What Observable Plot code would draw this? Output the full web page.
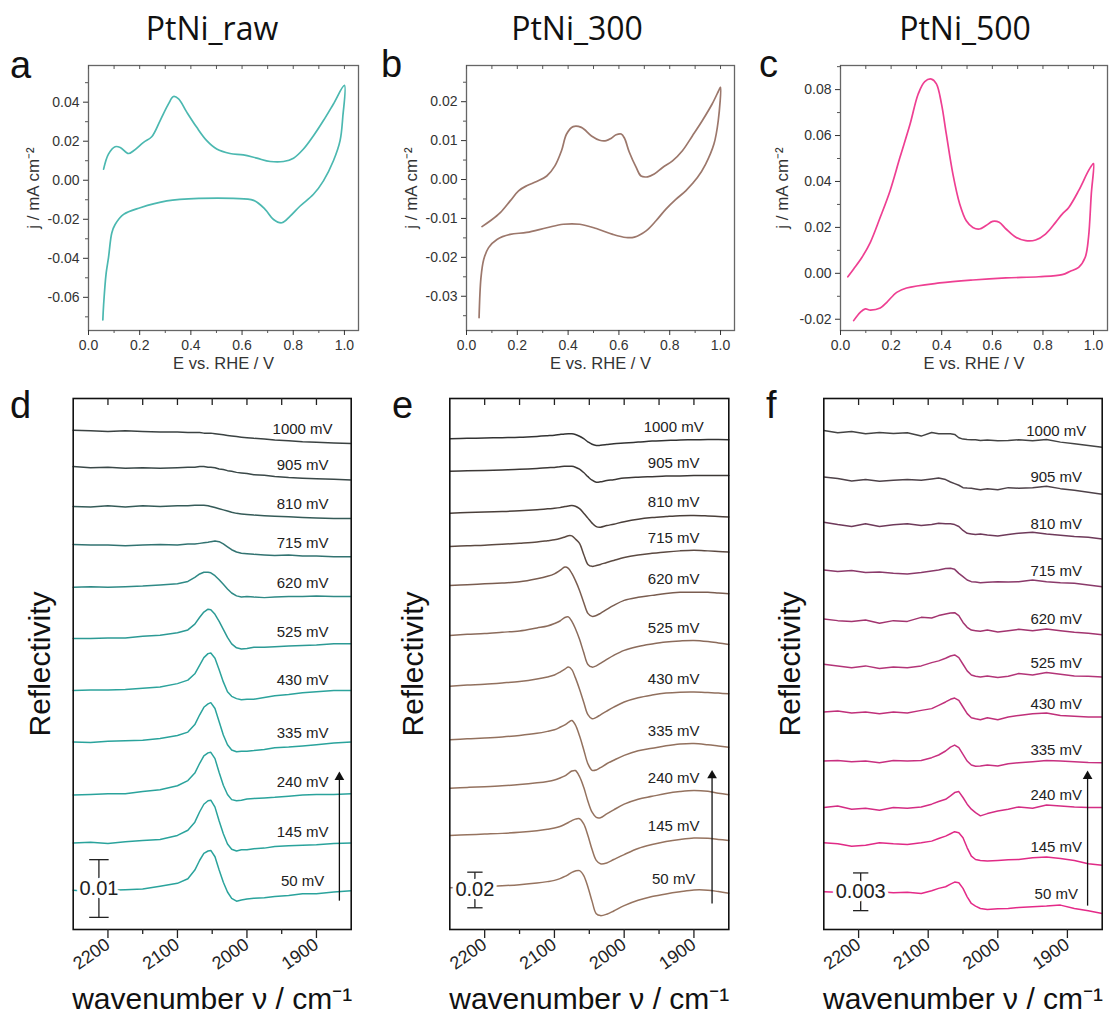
<!DOCTYPE html>
<html><head><meta charset="utf-8">
<script src="https://cdn.jsdelivr.net/npm/d3@7"></script>
<script src="https://cdn.jsdelivr.net/npm/@observablehq/plot@0.6"></script>
<style>
body{margin:0;background:#fff}
#wrap{position:relative;width:1109px;height:1025px;overflow:hidden;font-family:"Liberation Sans",Arial,sans-serif}
.title{position:absolute;top:12px;transform:translateX(-50%);font-family:"Open Sans",sans-serif;font-size:32px;line-height:1;white-space:nowrap;color:#111;z-index:3}
.letter{position:absolute;font-family:"Liberation Sans",Arial,sans-serif;font-size:38px;line-height:1;color:#111;z-index:3}
.slot{position:absolute}
.slot svg{display:block;max-width:none;background:transparent}
</style></head>
<body><div id="wrap">
<div class="title" style="left:212px">PtNi_raw</div>
<div class="title" style="left:577px">PtNi_300</div>
<div class="title" style="left:965px">PtNi_500</div>
<div class="letter" style="left:10px;top:46px">a</div>
<div class="letter" style="left:381px;top:45px">b</div>
<div class="letter" style="left:759px;top:45px">c</div>
<div class="letter" style="left:10px;top:386px">d</div>
<div class="letter" style="left:392px;top:386px">e</div>
<div class="letter" style="left:766px;top:386px">f</div>
</div>
<script>
// ---------- Cyclic voltammograms (E / V vs RHE, j / mA cm^-2) ----------
const cvA_E = [0.059,0.078,0.104,0.124,0.156,0.176,0.215,0.247,0.280,0.3125,0.332,0.352,0.384,0.423,0.462,0.501,0.553,0.605,0.658,0.710,0.762,0.801,0.840,0.879,0.918,0.957,1.0,
  0.9935,0.983,0.957,0.918,0.879,0.827,0.788,0.755,0.723,0.690,0.645,0.566,0.436,0.306,0.202,0.137,0.104,0.091,0.078,0.069,0.059,0.056];
const cvA_j = [0.0057,0.0134,0.0172,0.0168,0.0137,0.0151,0.0194,0.0223,0.0306,0.0391,0.0429,0.0417,0.0349,0.0271,0.0203,0.0160,0.0137,0.0130,0.0113,0.0096,0.0096,0.0113,0.0160,0.0228,0.0306,0.0391,0.0486,
  0.0323,0.0203,0.0100,-0.0003,-0.0072,-0.0132,-0.0184,-0.0218,-0.0201,-0.0149,-0.0103,-0.0093,-0.0093,-0.0106,-0.0141,-0.0175,-0.0227,-0.0270,-0.0398,-0.0476,-0.0639,-0.0716];

const cvB_E = [0.061,0.094,0.133,0.172,0.205,0.237,0.276,0.316,0.348,0.374,0.394,0.420,0.452,0.492,0.524,0.550,0.570,0.589,0.609,0.622,0.641,0.668,0.687,0.713,0.739,0.772,0.811,0.850,0.889,0.928,0.967,0.997,1.0,
  0.991,0.974,0.941,0.909,0.863,0.824,0.785,0.746,0.707,0.661,0.628,0.576,0.511,0.446,0.381,0.316,0.237,0.172,0.120,0.087,0.068,0.057,0.0495];
const cvB_j = [-0.0121,-0.0106,-0.0085,-0.0055,-0.0029,-0.0016,-0.0005,0.0009,0.0035,0.0074,0.0117,0.0136,0.0134,0.0112,0.0101,0.0100,0.0106,0.0115,0.0117,0.0106,0.0070,0.0031,0.0009,0.0007,0.0014,0.0031,0.0048,0.0074,0.0112,0.0151,0.0194,0.0234,0.0237,
  0.0151,0.0091,0.0039,0.0005,-0.0029,-0.0051,-0.0076,-0.0106,-0.0132,-0.0148,-0.0149,-0.0141,-0.0126,-0.0115,-0.0115,-0.0124,-0.0136,-0.0141,-0.0154,-0.0175,-0.0205,-0.0252,-0.0355];

const cvC_E = [0.029,0.052,0.085,0.118,0.157,0.196,0.235,0.275,0.307,0.333,0.359,0.379,0.399,0.418,0.444,0.471,0.497,0.523,0.549,0.575,0.601,0.627,0.654,0.693,0.732,0.771,0.810,0.850,0.876,0.902,0.941,0.980,0.997,1.0,
  0.991,0.980,0.967,0.941,0.908,0.876,0.784,0.654,0.523,0.392,0.261,0.222,0.183,0.157,0.118,0.098,0.078,0.052];
const cvC_j = [-0.0015,0.0019,0.0070,0.0135,0.0244,0.0360,0.0505,0.0650,0.0781,0.0835,0.0846,0.0825,0.0738,0.0607,0.0433,0.0302,0.0229,0.0200,0.0193,0.0208,0.0226,0.0222,0.0193,0.0157,0.0142,0.0145,0.0171,0.0222,0.0258,0.0287,0.0360,0.0447,0.0476,0.0478,
  0.0346,0.0157,0.0070,0.0026,0.0009,-0.0006,-0.0015,-0.0020,-0.0029,-0.0042,-0.0064,-0.0083,-0.0126,-0.0151,-0.0160,-0.0155,-0.0170,-0.0206];

// ---------- IR spectra: potentials, wavenumber grids, offsets and signals (ΔR × 10^-3) ----------
const potentials = [50,145,240,335,430,525,620,715,810,905,1000];

const wavenumbersD = [2250,2225,2200,2175,2150,2125,2100,2085,2075,2068,2062,2056,2052,2046,2040,2034,2028,2022,2015,2008,2000,1990,1975,1960,1940,1920,1900,1875,1850];
const offsetsD = [6.8,15.0,23.3,32.5,41.4,50.4,59.3,66.7,73.3,80.2,86.5];
const spectraD = [
  [0,-0.2,0,0.1,0.2,0.7,1.2,2.0,3.5,5.2,6.4,6.8,6.9,5.8,3.5,1.4,-0.3,-1.4,-1.9,-1.7,-1.5,-1.4,-1.3,-1.1,-0.9,-0.6,-0.6,-0.3,-0.1],
  [0,0.1,-0.1,0.2,0.4,0.6,1.3,2.2,3.6,5.4,6.7,7.3,7.4,6.2,3.8,1.6,-0.2,-1.1,-1.4,-1.2,-1.2,-1.0,-0.9,-0.6,-0.5,-0.4,-0.3,-0.1,0],
  [0,0.1,0.2,0.2,0.6,0.9,1.6,2.5,3.8,5.5,6.8,7.3,7.4,6.3,3.9,1.7,0.1,-0.8,-1.0,-0.9,-0.7,-0.6,-0.5,-0.4,-0.2,0,0.1,0.1,0.2],
  [0,-0.1,0.1,0.2,0.3,0.6,1.1,1.7,3.0,4.7,6.0,6.6,6.8,5.8,3.5,1.2,-0.5,-1.4,-1.7,-1.6,-1.6,-1.5,-1.3,-1.0,-0.9,-0.7,-0.5,-0.2,0],
  [0,0.1,0.1,0.2,0.4,0.6,1.2,1.8,2.9,4.4,5.7,6.4,6.5,5.6,3.6,1.5,-0.2,-1.0,-1.4,-1.6,-1.5,-1.5,-1.2,-0.9,-0.7,-0.4,-0.2,0,0],
  [0,0,0.1,0.1,0.4,0.6,1.0,1.5,2.5,3.7,4.6,5.1,5.0,4.2,3.0,1.6,0.2,-0.9,-1.6,-1.8,-1.7,-1.5,-1.5,-1.4,-1.3,-1.2,-1.1,-0.9,-0.9],
  [0,0.1,0,0.1,0.2,0.4,0.6,1.0,1.7,2.3,2.6,2.6,2.5,2.0,1.3,0.5,-0.3,-1.0,-1.5,-1.7,-1.6,-1.7,-1.8,-1.7,-1.6,-1.6,-1.5,-1.6,-1.6],
  [0,-0.1,-0.1,-0.2,-0.1,0,-0.1,0.1,0.1,0.2,0.3,0.4,0.5,0.6,0.5,0.1,-0.4,-0.9,-1.3,-1.5,-1.6,-1.7,-1.8,-1.9,-1.8,-2.0,-2.0,-2.1,-2.1],
  [0,-0.1,0.1,-0.1,0.1,0,0.1,0.1,0.2,0.2,0.2,0.1,0,-0.2,-0.4,-0.6,-0.8,-1.0,-1.2,-1.3,-1.4,-1.5,-1.6,-1.7,-1.8,-1.9,-2.0,-2.1,-2.1],
  [0,-0.2,-0.1,-0.3,-0.2,-0.3,-0.2,-0.1,-0.1,0,0,-0.1,-0.1,-0.2,-0.4,-0.5,-0.7,-0.8,-1.0,-1.1,-1.2,-1.4,-1.5,-1.7,-1.9,-2.0,-2.1,-2.2,-2.3],
  [0,-0.1,-0.2,-0.1,-0.2,-0.3,-0.3,-0.4,-0.4,-0.4,-0.5,-0.5,-0.5,-0.6,-0.7,-0.8,-0.9,-1.0,-1.1,-1.2,-1.3,-1.4,-1.5,-1.7,-1.8,-2.0,-2.1,-2.2,-2.3]
];

const wavenumbersE = [2250,2225,2200,2175,2150,2125,2110,2100,2092,2085,2080,2075,2070,2064,2058,2052,2046,2040,2034,2025,2015,2000,1980,1960,1940,1920,1900,1880,1865,1850];
const offsetsE = [23.4,52.8,79.4,106.6,136.7,165.2,193.3,215.2,233.9,257.5,275.7];
const spectraE = [
  [0,0.4,0.8,1.2,1.8,2.7,3.5,4.2,5.2,6.4,7.5,8.7,9.5,9.7,6.9,0.5,-7.6,-14.6,-15.6,-14.8,-13.0,-10.0,-7.0,-4.9,-3.4,-2.2,-1.2,-1.3,-2.1,-3.0],
  [0,0.4,0.8,1.2,1.8,2.7,3.5,4.2,5.1,6.3,7.3,8.4,9.2,9.4,6.5,0.0,-7.9,-14.0,-15.9,-15.4,-13.5,-10.7,-7.3,-5.1,-3.4,-2.2,-1.4,-1.6,-2.2,-2.8],
  [0,0.4,0.8,1.3,2.0,3.0,3.8,4.6,5.7,6.9,8.3,9.6,9.9,6.5,0.5,-7.3,-13.5,-16.4,-16.6,-14.5,-12.2,-9.0,-6.2,-4.6,-3.0,-1.9,-1.3,-1.8,-2.8,-3.7],
  [0,0.5,1.0,1.6,2.4,3.6,4.7,5.6,7.0,8.4,9.7,10.8,8.4,2.2,-5.6,-13.5,-17.2,-17.0,-15.7,-13.5,-11.5,-8.8,-6.2,-4.8,-3.4,-2.4,-2.1,-2.8,-3.5,-4.2],
  [0,0.6,1.1,1.8,2.6,4.0,5.2,6.3,7.9,9.6,10.7,9.3,4.8,-1.7,-9.0,-16.0,-18.3,-17.5,-16.1,-14.0,-11.8,-8.9,-6.5,-5.0,-3.9,-3.4,-3.3,-3.6,-3.9,-4.3],
  [0,0.6,1.1,1.8,2.5,4.2,5.3,6.7,8.1,10.1,10.4,7.9,3.9,-2.2,-9.6,-16.3,-17.8,-17.1,-15.7,-13.5,-11.2,-8.4,-6.2,-4.8,-3.7,-3.1,-2.8,-3.4,-4.2,-5.1],
  [0,0.4,0.9,1.4,2.0,3.7,5.1,6.5,8.4,10.3,9.6,6.7,2.8,-2.8,-9.6,-15.7,-17.4,-16.9,-15.7,-13.5,-11.2,-8.4,-6.7,-5.6,-4.5,-3.9,-3.8,-3.9,-4.3,-4.7],
  [0,0.4,0.7,1.2,1.8,2.5,3.2,3.7,4.4,5.3,6.0,5.9,4.2,1.7,-4.5,-10.1,-11.2,-10.7,-10.1,-9.0,-7.9,-6.2,-4.8,-3.9,-3.1,-2.5,-2.2,-2.5,-2.8,-3.2],
  [0,0.3,0.6,0.9,1.3,1.9,2.4,2.7,3.1,3.7,4.0,4.3,3.9,2.5,0,-2.8,-5.6,-7.6,-7.9,-7.0,-6.2,-4.8,-3.4,-2.5,-1.9,-1.4,-1.3,-1.6,-1.9,-2.2],
  [0,0.2,0.4,0.7,1.0,1.5,1.9,2.1,2.5,2.7,2.8,2.7,2.2,1.1,-0.8,-3.1,-5.1,-6.2,-6.0,-5.3,-4.8,-3.9,-3.4,-3.1,-2.8,-2.7,-2.5,-2.4,-2.4,-2.4],
  [0,0.2,0.4,0.6,0.8,1.3,1.7,2.0,2.4,2.7,2.8,2.8,2.4,1.4,0,-1.7,-3.1,-3.8,-3.7,-3.3,-2.8,-2.4,-1.9,-1.3,-1.0,-0.7,-0.6,-0.4,-0.4,-0.6]
];

const wavenumbersF = [2250,2230,2210,2190,2170,2150,2130,2110,2095,2085,2075,2068,2062,2056,2050,2044,2038,2032,2025,2015,2000,1985,1970,1950,1930,1910,1890,1870,1850];
const offsetsF = [3.0,6.9,9.7,13.4,17.3,21.1,24.7,28.6,32.4,36.0,39.7];
const spectraF = [
  [0,-0.03,-0.13,-0.08,0,-0.08,-0.03,-0.13,0.08,0.27,0.40,0.61,0.77,0.72,0.27,-0.40,-0.93,-1.14,-1.33,-1.41,-1.35,-1.33,-1.25,-1.19,-1.14,-1.06,-1.33,-1.51,-1.72],
  [0,-0.08,-0.27,-0.19,0,-0.08,-0.13,0,0.13,0.34,0.53,0.72,0.88,0.80,0.40,-0.40,-1.06,-1.33,-1.41,-1.46,-1.41,-1.35,-1.33,-1.19,-1.14,-1.25,-1.41,-1.67,-1.78],
  [0,0.13,-0.13,-0.05,-0.21,0,-0.05,0.05,0.27,0.48,0.66,0.93,1.19,1.27,0.80,0.27,-0.13,-0.40,-0.66,-0.48,-0.27,-0.13,0.05,-0.05,0.21,0.13,0.05,0,0],
  [0,0.05,-0.05,0,-0.13,0.05,0,0.05,0.27,0.48,0.80,1.11,1.27,1.06,0.53,0,-0.32,-0.42,-0.40,-0.32,-0.40,-0.21,-0.13,-0.05,0.05,0,-0.05,-0.11,-0.13],
  [0,0.08,-0.08,0,-0.13,0,-0.08,0.13,0.27,0.53,0.80,1.01,1.11,0.93,0.40,-0.13,-0.45,-0.53,-0.61,-0.45,-0.61,-0.40,-0.27,-0.13,-0.08,-0.27,-0.34,-0.40,-0.40],
  [0,-0.13,-0.27,-0.13,-0.34,-0.21,-0.27,-0.13,0.13,0.27,0.48,0.66,0.74,0.53,0,-0.53,-0.85,-0.95,-1.01,-0.93,-1.06,-0.95,-0.74,-0.85,-0.66,-0.80,-0.93,-0.95,-1.01],
  [0,-0.13,-0.19,-0.08,-0.34,-0.13,-0.19,0.13,0.08,0.27,0.40,0.48,0.50,0.27,-0.27,-0.66,-0.88,-0.93,-0.98,-0.88,-1.03,-0.93,-0.82,-0.93,-0.80,-0.93,-1.06,-1.14,-1.25],
  [0,-0.13,-0.05,-0.21,-0.16,-0.27,-0.32,-0.21,-0.08,0,0.11,0.13,0.05,-0.27,-0.53,-0.80,-0.93,-0.95,-1.01,-0.98,-0.93,-0.95,-0.93,-0.80,-0.93,-1.01,-1.06,-1.19,-1.33],
  [0,-0.19,-0.34,-0.13,-0.34,-0.21,-0.13,-0.27,-0.19,-0.08,-0.13,-0.13,-0.19,-0.34,-0.66,-0.88,-0.93,-0.98,-0.93,-1.01,-1.09,-0.98,-0.88,-0.80,-0.93,-1.03,-1.14,-1.19,-1.33],
  [0,-0.13,-0.32,-0.21,-0.34,-0.27,-0.21,-0.27,-0.16,-0.08,-0.21,-0.40,-0.53,-0.66,-0.85,-0.88,-0.90,-0.95,-1.01,-0.93,-1.01,-0.85,-0.90,-0.85,-0.74,-0.93,-1.06,-1.22,-1.38],
  [0,-0.19,-0.08,-0.27,-0.16,-0.24,-0.19,-0.45,-0.16,-0.27,-0.27,-0.27,-0.32,-0.58,-0.69,-0.72,-0.74,-0.74,-0.80,-0.77,-0.82,-0.80,-0.74,-0.82,-0.72,-0.93,-1.06,-1.19,-1.33]
];

// scale bars and potential-sweep arrows (data units)
const scaleBarD = {w: 2213, y0: 2.1, len: 10, label: "0.01"};
const scaleBarE = {w: 2214, y0: 12.2, len: 20, label: "0.02"};
const scaleBarF = {w: 2197, y0: 1.5, len: 3, label: "0.003"};
const arrowD = {w: 1867, from: 5.0, to: 26.4};
const arrowE = {w: 1874, from: 14.6, to: 86.5};
const arrowF = {w: 1871, from: 1.9, to: 12.2};

// ---------- styling ----------
const FONT = "Liberation Sans, Arial, sans-serif";
const colorsD = ["#2aa39c","#2aa39c","#2aa39c","#2aa39c","#2ca39c","#2c9a95","#2f8a86","#327371","#355b58","#3a4848","#3b4242"];
const colorsE = ["#96735f","#96735f","#94725f","#93715e","#91705e","#8b6b5b","#7a5d50","#5c4a42","#4a3f3a","#3c3836","#333333"];
const colorsF = ["#e42a88","#e02a86","#d42d84","#c83080","#c0307a","#b33578","#a2346f","#8a3a6a","#6e3a5a","#4e4249","#444444"];

const wrap = document.getElementById("wrap");
function place(el, left, top) {
  const d = document.createElement("div");
  d.className = "slot";
  d.style.left = left + "px"; d.style.top = top + "px";
  d.appendChild(el); wrap.appendChild(d);
}

function cvPanel({E, j, color, width, mL, mR, yDomain, yMajor, yMinor, ylabDx}) {
  const H = 340, mT = 25, mB = 50, frameH = H - mT - mB;
  const data = E.map((e, i) => ({E: e, j: j[i]}));
  const xMajor = [0, 0.2, 0.4, 0.6, 0.8, 1.0], xMinor = [0.1, 0.3, 0.5, 0.7, 0.9];
  return Plot.plot({
    width, height: H, marginLeft: mL, marginRight: mR, marginTop: mT, marginBottom: mB,
    style: {fontFamily: FONT, background: "transparent", overflow: "visible"},
    x: {domain: [0, 1.055]},
    y: {domain: yDomain},
    marks: [
      Plot.frame({stroke: "#666", strokeWidth: 1.3}),
      Plot.axisX(xMajor, {tickSize: 5, tickPadding: 5, tickFormat: d => d.toFixed(1), fontSize: 14, color: "#333", label: null}),
      Plot.axisX(xMinor, {tickSize: 3, tickFormat: () => "", color: "#555", label: null}),
      Plot.ruleX(xMajor.concat(xMinor), {stroke: "#555", insetBottom: frameH - 4}),
      Plot.axisY(yMajor, {tickSize: 5, tickPadding: 4, tickFormat: d => d.toFixed(2), fontSize: 14, color: "#333", label: null}),
      Plot.axisY(yMinor, {tickSize: 3, tickFormat: () => "", color: "#555", label: null}),
      Plot.line(data, {x: "E", y: "j", stroke: color, strokeWidth: 1.7, curve: "catmull-rom"}),
      Plot.text(["E vs. RHE / V"], {text: d => d, frameAnchor: "bottom", lineAnchor: "middle", textAnchor: "middle", dy: 33, fontSize: 16.5, fill: "#333"}),
      Plot.text(["j / mA cm⁻²"], {text: d => d, frameAnchor: "left", lineAnchor: "middle", textAnchor: "middle", dx: ylabDx, dy: -10, rotate: -90, fontSize: 17, fill: "#333"})
    ]
  });
}

function irPanel({W, spectra, offsets, colors, width, mL, mR, yMax, labelW, labelIdx, labelDy, bar, arrow, ylabDx, curve, capW}) {
  const H = 645, mT = 18, mB = 96, frameH = H - mT - mB;
  const lines = spectra.map((s, k) =>
    Plot.line(s.map((v, i) => ({w: W[i], y: offsets[k] + v})), {x: "w", y: "y", stroke: colors[k], strokeWidth: 1.5, curve}));
  return Plot.plot({
    width, height: H, marginLeft: mL, marginRight: mR, marginTop: mT, marginBottom: mB,
    style: {fontFamily: FONT, background: "transparent", overflow: "visible"},
    x: {domain: [2250, 1850]},
    y: {domain: [0, yMax], axis: null},
    marks: [
      ...lines,
      Plot.frame({stroke: "#111", strokeWidth: 1.6}),
      Plot.axisX([2200, 2100, 2000, 1900], {tickSize: 9, tickPadding: 4, tickRotate: -35, tickFormat: d => String(d), fontSize: 18, color: "#222", label: null, strokeWidth: 1.3}),
      Plot.axisX([2150, 2050, 1950], {tickSize: 5, tickFormat: () => "", color: "#222", label: null, strokeWidth: 1.3}),
      Plot.ruleX([2200, 2150, 2100, 2050, 2000, 1950, 1900], {stroke: "#222", strokeWidth: 1.3, insetBottom: frameH - 7}),
      Plot.text(potentials, {x: () => labelW, y: (p, k) => offsets[k] + spectra[k][labelIdx], text: p => p + " mV", dy: labelDy, fontSize: 15, fill: "#222"}),
      // scale bar
      Plot.link([bar], {x1: "w", x2: "w", y1: "y0", y2: d => d.y0 + d.len, stroke: "#222", strokeWidth: 1.3}),
      Plot.link([bar], {x1: d => d.w + capW, x2: d => d.w - capW, y1: "y0", y2: "y0", stroke: "#222", strokeWidth: 1.3}),
      Plot.link([bar], {x1: d => d.w + capW, x2: d => d.w - capW, y1: d => d.y0 + d.len, y2: d => d.y0 + d.len, stroke: "#222", strokeWidth: 1.3}),
      Plot.text([bar], {x: "w", y: d => d.y0 + d.len / 2, text: "label", fontSize: 20, fill: "#222", stroke: "white", strokeWidth: 7, paintOrder: "stroke"}),
      // sweep arrow
      Plot.link([arrow], {x1: "w", x2: "w", y1: "from", y2: "to", stroke: "#111", strokeWidth: 1.3}),
      Plot.dot([arrow], {x: "w", y: "to", symbol: "triangle", r: 3.6, fill: "#111", stroke: "none"}),
      Plot.text(["wavenumber ν / cm⁻¹"], {text: d => d, frameAnchor: "bottom", textAnchor: "middle", dy: 79, fontSize: 30, fill: "#111"}),
      Plot.text(["Reflectivity"], {text: d => d, frameAnchor: "left", lineAnchor: "middle", textAnchor: "middle", dx: ylabDx, rotate: -90, fontSize: 30, fill: "#111"})
    ]
  });
}

place(cvPanel({E: cvA_E, j: cvA_j, color: "#4bb8b0", width: 370, mL: 88, mR: 12,
  yDomain: [-0.077, 0.0588], yMajor: [-0.06,-0.04,-0.02,0,0.02,0.04], yMinor: [-0.07,-0.05,-0.03,-0.01,0.01,0.03,0.05], ylabDx: -55}), 0, 40);
place(cvPanel({E: cvB_E, j: cvB_j, color: "#9c776b", width: 370, mL: 96, mR: 6,
  yDomain: [-0.0388, 0.0293], yMajor: [-0.03,-0.02,-0.01,0,0.01,0.02], yMinor: [-0.035,-0.025,-0.015,-0.005,0.005,0.015,0.025], ylabDx: -55}), 370, 40);
place(cvPanel({E: cvC_E, j: cvC_j, color: "#ee3f92", width: 369, mL: 100, mR: 2,
  yDomain: [-0.0249, 0.0905], yMajor: [-0.02,0,0.02,0.04,0.06,0.08], yMinor: [-0.01,0.01,0.03,0.05,0.07,0.09], ylabDx: -58}), 740, 40);

place(irPanel({W: wavenumbersD, spectra: spectraD, offsets: offsetsD, colors: colorsD, width: 370, mL: 72.7, mR: 19.3, yMax: 92.0,
  labelW: 1920, labelIdx: 25, labelDy: -13, bar: scaleBarD, arrow: arrowD, ylabDx: -33, curve: "linear", capW: 14}), 0, 380);
place(irPanel({W: wavenumbersE, spectra: spectraE, offsets: offsetsE, colors: colorsE, width: 370, mL: 79.3, mR: 11.7, yMax: 298.3,
  labelW: 1929, labelIdx: 25, labelDy: -13, bar: scaleBarE, arrow: arrowE, ylabDx: -36, curve: "catmull-rom", capW: 11}), 370, 380);
place(irPanel({W: wavenumbersF, spectra: spectraF, offsets: offsetsF, colors: colorsF, width: 369, mL: 83.3, mR: 7.3, yMax: 42.24,
  labelW: 1916, labelIdx: 25, labelDy: -11, bar: scaleBarF, arrow: arrowF, ylabDx: -33, curve: "linear", capW: 11}), 740, 380);
</script>
</body></html>
